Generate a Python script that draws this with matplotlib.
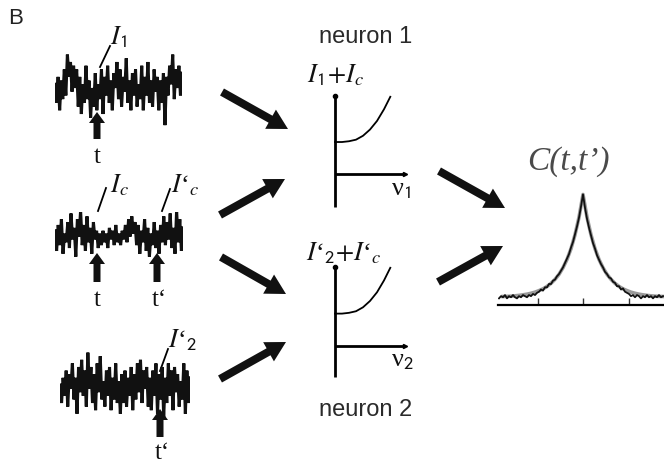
import matplotlib
matplotlib.use("Agg")
import matplotlib.pyplot as plt
import matplotlib.patches as mpatches

plt.rcParams['font.family'] = ['Liberation Sans', 'DejaVu Sans']
plt.rcParams['mathtext.fontset'] = 'stix'

# ---------------- data ----------------
trace1 = [0.1,-0.4,0.3,-0.6,0.2,-0.3,0.5,-0.2,0.9,0.3,0.7,-0.1,0.6,0.0,0.5,-0.5,0.3,-0.7,0.1,-0.4,
          0.6,-0.3,0.2,-0.8,0.0,-0.5,0.4,-0.6,0.1,-0.3,0.5,-0.7,0.3,-0.2,0.6,-0.4,0.2,-0.6,0.4,0.0,
          0.7,-0.3,0.5,-0.5,0.3,-0.1,0.8,-0.4,0.2,-0.6,0.4,-0.2,0.5,-0.5,0.1,-0.3,0.6,-0.6,0.3,-0.2,
          0.7,-0.4,0.2,-0.5,0.5,-0.1,0.3,-0.6,0.2,-0.4,0.4,-1.0,0.3,-0.2,0.6,0.1,0.9,-0.3,0.5,0.0,
          0.6,-0.2,0.4]
trace2 = [0.2,-0.5,0.4,-0.3,0.6,-0.6,0.1,-0.2,0.5,-0.4,0.8,-0.1,0.3,-0.7,0.6,0.0,0.9,-0.3,0.4,-0.5,
          0.7,-0.2,0.3,-0.6,0.5,-0.1,0.2,-0.4,0.1,-0.3,0.2,-0.2,0.1,-0.4,0.3,-0.1,0.2,-0.3,0.4,-0.2,
          0.1,-0.3,0.2,-0.1,0.4,-0.2,0.6,0.0,0.7,0.1,0.5,-0.3,0.4,-0.6,0.2,-0.2,0.6,-0.5,0.3,-0.7,
          0.1,-0.3,0.5,-0.4,0.2,-0.6,0.4,-0.2,0.7,-0.3,0.5,-0.1,0.8,-0.4,0.3,-0.6,0.9,-0.2,0.6,-0.5,
          0.3]
trace3 = [0.0,-0.5,0.2,-0.3,0.4,-0.6,0.3,-0.1,0.6,-0.4,0.2,-0.8,0.5,-0.2,0.7,-0.3,0.4,-0.6,0.9,-0.1,
          0.5,-0.5,0.3,-0.7,0.6,-0.2,0.8,-0.4,0.1,-0.6,0.4,-0.3,0.5,-0.7,0.2,-0.4,0.6,-0.5,0.1,-0.8,
          0.3,-0.5,0.4,-0.6,0.2,-0.3,0.5,-0.7,0.3,-0.4,0.6,-0.2,0.7,-0.5,0.4,-0.1,0.5,-0.6,0.2,-0.7,
          0.4,-0.3,0.6,-0.8,0.3,-0.4,0.5,-0.9,0.2,-0.5,0.6,-0.3,0.4,-0.7,0.5,-0.2,0.3,-0.6,0.1,-0.4,
          0.6,-0.8,0.4,-0.5,0.2]

fi_rate = [0, 0.1, 0.2, 0.3, 0.4, 0.5, 0.6, 0.7, 0.79]
fi_input = [0.41, 0.41, 0.42, 0.44, 0.49, 0.57, 0.68, 0.83, 0.99]

lag_sim = list(range(-42, 41))
corr_sim = [0.06,0.08,0.07,0.09,0.06,0.08,0.07,0.09,0.07,0.06,0.08,0.07,0.09,0.08,0.07,0.09,0.08,0.10,0.09,0.11,
            0.12,0.14,0.13,0.16,0.16,0.19,0.19,0.22,0.23,0.26,0.28,0.31,0.34,0.38,0.42,0.46,0.52,0.57,0.64,0.71,
            0.79,0.89,1.00,
            0.88,0.78,0.70,0.63,0.56,0.51,0.45,0.41,0.37,0.34,0.30,0.28,0.25,0.24,0.21,0.20,0.17,0.17,0.14,0.15,
            0.12,0.11,0.10,0.08,0.09,0.07,0.09,0.08,0.06,0.08,0.07,0.09,0.07,0.08,0.06,0.08,0.07,0.09,0.07,0.08]
lag_th = list(range(-40, 41, 2))
corr_th_half = [1.00,0.794,0.635,0.509,0.412,0.337,0.277,0.232,0.196,0.168,0.146,0.130,0.116,0.106,
                0.098,0.092,0.087,0.083,0.080,0.078,0.077]
corr_th = corr_th_half[:0:-1] + corr_th_half

W, H = 664, 464
fig = plt.figure(figsize=(W/100, H/100), dpi=100)

def box(x0, y0, x1, y1):
    a = fig.add_axes([x0/W, 1-y1/H, (x1-x0)/W, (y1-y0)/H])
    a.patch.set_visible(False)
    return a

ov = fig.add_axes([0, 0, 1, 1])
ov.set_xlim(0, W); ov.set_ylim(H, 0); ov.axis('off')

# ---------- noise traces ----------
for vals, (x0, y0, x1, y1), lim in [(trace1, (55, 50, 182, 128), 1.05),
                                    (trace2, (55, 213, 183, 262), 0.85),
                                    (trace3, (60, 350, 190, 422), 1.0)]:
    a = box(x0, y0, x1, y1)
    a.plot(range(len(vals)), vals, color='#111111', lw=2.2, solid_joinstyle='miter')
    a.set_xlim(0, len(vals)-1); a.set_ylim(-lim, lim); a.axis('off')

# pointer slashes
for (xa, ya, xb, yb) in [(100, 68, 110, 47), (98, 212, 106, 189), (162, 212, 170, 190), (160, 372, 168, 350)]:
    ov.plot([xa, xb], [ya, yb], color='k', lw=1.3)

# small up arrows
for (x, yb, yt) in [(97, 140, 113), (97, 283, 254), (157, 283, 254), (160, 438, 410)]:
    ov.add_patch(mpatches.FancyArrow(x, yb, 0, yt-yb, width=7, head_width=16, head_length=11,
                                     length_includes_head=True, color='#111111', lw=0))

# big arrows
for (xa, ya, xb, yb) in [(222, 93, 288, 130), (220, 216, 285, 180), (221, 258, 286, 295),
                         (220, 380, 286, 343), (439, 172, 505, 209), (438, 283, 503, 247)]:
    ov.add_patch(mpatches.FancyArrow(xa, ya, xb-xa, yb-ya, width=8, head_width=22, head_length=20,
                                     length_includes_head=True, color='#111111', lw=0))

# ---------- f-I curves ----------
for (y0, y1, yaxis) in [(97, 208, 175), (268, 378, 347)]:
    a = box(335, y0, 405, y1)
    lo = -(y1 - yaxis) / (yaxis - y0)
    a.set_xlim(0, 1); a.set_ylim(lo, 1.0); a.axis('off')
    a.plot([0, 0], [lo, 1.0], color='k', lw=2.0, clip_on=False, solid_capstyle='butt')
    a.plot([0, 1], [0, 0], color='k', lw=2.0, clip_on=False, solid_capstyle='butt')
    a.plot([0], [1.0], 'o', color='k', ms=3, clip_on=False)
    a.plot([1], [0], '>', color='k', ms=3, clip_on=False)
    a.plot(fi_rate, fi_input, color='k', lw=1.3, clip_on=False)

# ---------- correlation ----------
ac = box(498, 191, 664, 306)
ac.plot(lag_th, corr_th, color='#9a9a9a', lw=2.6)
ac.plot(lag_sim, corr_sim, color='#111111', lw=1.3)
ac.set_xlim(-42.5, 40.5); ac.set_ylim(0, 1.04)
for s in ['top', 'right', 'left']:
    ac.spines[s].set_visible(False)
ac.spines['bottom'].set_linewidth(1.6)
ac.set_xticks([-22.5, 0, 23]); ac.set_xticklabels([])
ac.set_yticks([])
ac.tick_params(axis='x', direction='in', length=5, width=1, color='#333333')

# ---------- text ----------
ov.text(8, 19, 'B', fontsize=16, ha='left', va='center', color='#222222')
ov.text(366, 37, 'neuron 1', fontsize=17, ha='center', va='center', color='#2a2a2a')
ov.text(366, 410, 'neuron 2', fontsize=17, ha='center', va='center', color='#2a2a2a')
mt = dict(fontsize=19, ha='left', va='center', color='#111111', family='Liberation Serif')
ov.text(307, 75, r"$I_{\mathsf{1}}\!+\!I_c$", **mt)
ov.text(306, 253, r"$I$‘${}_{\mathsf{2}}\!+\!I$‘${}_c$", **mt)
ov.text(391, 190, r"ν${}_{\mathsf{1}}$", **mt)
ov.text(391, 361, r"ν${}_{\mathsf{2}}$", **mt)
ov.text(110, 37, r"$I_{\mathsf{1}}$", **mt)
ov.text(110, 185, r"$I_c$", **mt)
ov.text(171, 185, r"$I$‘${}_c$", **mt)
ov.text(168, 340, r"$I$‘${}_{\mathsf{2}}$", **mt)
st = dict(fontsize=18, ha='center', va='center', color='#111111', family='Liberation Serif')
ov.text(97, 157, 't', **st)
ov.text(97, 300, 't', **st)
ov.text(159, 300, 't\u2018', **st)
ov.text(162, 453, 't\u2018', **st)
ov.text(568, 162, "C(t,t\u2019)", fontsize=24, ha='center', va='center', color='#4a4a4a',
        family='Liberation Serif', style='italic')

fig.savefig('out.png', dpi=100)
